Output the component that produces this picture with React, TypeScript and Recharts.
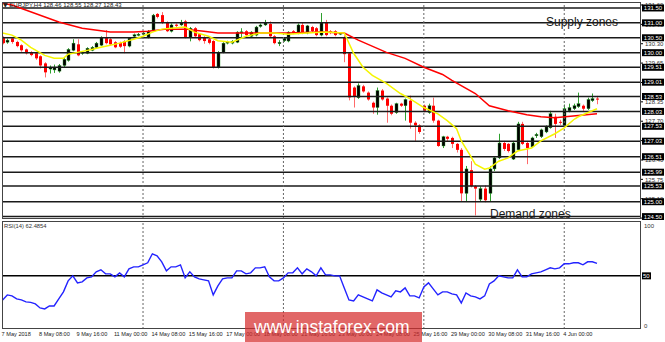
import React from 'react';
import { ComposedChart, Bar, Line, XAxis, YAxis, ReferenceLine } from 'recharts';

// EURJPY H4, 7 May - 5 Jun 2018, one row per bar: [open, high, low, close]
const candles: number[][] = [
  [130.49, 130.55, 130.28, 130.32], [130.35, 130.47, 130.30, 130.42], [130.48, 130.52, 130.30, 130.36],
  [130.36, 130.40, 130.18, 130.22], [130.25, 130.28, 130.03, 130.08], [130.11, 130.14, 129.94, 129.98],
  [130.02, 130.05, 129.88, 129.92], [129.98, 130.01, 129.76, 129.81], [129.88, 129.91, 129.47, 129.57],
  [129.64, 129.68, 129.17, 129.34], [129.45, 129.57, 129.30, 129.50], [129.42, 129.60, 129.32, 129.50],
  [129.38, 129.62, 129.33, 129.57], [129.57, 129.82, 129.52, 129.78], [129.74, 130.15, 129.70, 130.11],
  [130.08, 130.45, 130.05, 130.32], [130.28, 130.45, 129.88, 129.91], [129.98, 130.05, 129.93, 130.01],
  [129.98, 130.18, 129.95, 130.15], [130.08, 130.22, 130.05, 130.18], [130.18, 130.36, 130.15, 130.32],
  [130.25, 130.55, 130.22, 130.52], [130.49, 130.76, 130.28, 130.32], [130.45, 130.49, 130.25, 130.28],
  [130.35, 130.39, 130.15, 130.18], [130.33, 130.37, 130.16, 130.20], [130.38, 130.42, 129.98, 130.22],
  [130.22, 130.52, 130.18, 130.49], [130.55, 130.64, 130.50, 130.60], [130.58, 130.66, 130.55, 130.62],
  [130.62, 130.70, 130.58, 130.66], [130.52, 130.76, 130.48, 130.72], [130.76, 131.30, 130.72, 131.26],
  [131.30, 131.33, 131.15, 131.20], [131.26, 131.36, 130.96, 131.00], [131.00, 131.05, 130.69, 130.72],
  [130.72, 130.98, 130.68, 130.93], [130.94, 130.98, 130.86, 130.90], [130.93, 131.10, 130.90, 131.00],
  [131.05, 131.10, 130.48, 130.52], [130.52, 130.86, 130.38, 130.82], [130.82, 130.86, 130.50, 130.55],
  [130.62, 130.66, 130.38, 130.42], [130.50, 130.55, 130.30, 130.39], [130.45, 130.50, 130.28, 130.33],
  [130.39, 130.42, 129.47, 129.51], [129.51, 130.05, 129.47, 130.01], [130.01, 130.35, 129.98, 130.32],
  [130.32, 130.40, 130.28, 130.36], [130.32, 130.42, 130.28, 130.38], [130.35, 130.72, 130.32, 130.69],
  [130.66, 130.82, 130.52, 130.70], [130.72, 130.76, 130.55, 130.59], [130.55, 130.72, 130.50, 130.69],
  [130.59, 130.90, 130.55, 130.86], [130.88, 130.98, 130.84, 130.93], [130.93, 131.10, 130.90, 131.00],
  [130.96, 131.05, 130.52, 130.55], [130.55, 130.59, 130.28, 130.32], [130.30, 130.42, 130.22, 130.35],
  [130.40, 130.52, 130.36, 130.48], [130.39, 130.72, 130.35, 130.69], [130.72, 130.76, 130.62, 130.66],
  [130.66, 130.98, 130.62, 130.93], [130.93, 131.00, 130.62, 130.66], [130.66, 130.93, 130.62, 130.90],
  [130.86, 130.90, 130.69, 130.72], [130.82, 130.86, 130.55, 130.59], [130.59, 131.33, 130.55, 131.00],
  [131.00, 131.10, 130.55, 130.59], [130.72, 130.76, 130.62, 130.66], [130.72, 130.76, 130.55, 130.59],
  [130.62, 130.69, 130.59, 130.66], [130.52, 130.58, 129.68, 129.95], [129.98, 130.00, 128.40, 128.50],
  [128.83, 128.87, 128.16, 128.53], [128.49, 128.97, 128.45, 128.90], [128.87, 128.92, 128.66, 128.70],
  [128.66, 128.70, 128.39, 128.43], [128.32, 128.36, 127.95, 128.16], [128.16, 128.83, 127.92, 128.73],
  [128.73, 128.78, 128.39, 128.43], [128.46, 128.50, 127.65, 128.22], [128.22, 128.26, 127.90, 127.95],
  [127.99, 128.32, 127.95, 128.29], [128.29, 128.32, 128.18, 128.22], [128.22, 128.46, 127.72, 128.43],
  [128.39, 128.56, 127.45, 127.65], [127.65, 127.70, 127.04, 127.56], [127.56, 127.60, 127.28, 127.34],
  [128.22, 128.26, 128.00, 128.05], [127.99, 128.29, 127.95, 128.22], [128.22, 128.49, 127.65, 127.72],
  [127.72, 127.75, 126.84, 126.87], [126.87, 127.21, 126.80, 127.18], [127.18, 127.21, 127.04, 127.11],
  [127.14, 127.18, 126.80, 126.94], [126.94, 126.97, 126.65, 126.74], [126.74, 126.80, 125.01, 125.28],
  [125.28, 126.20, 125.01, 126.10], [126.06, 126.36, 125.48, 125.52], [125.52, 125.56, 124.54, 125.44],
  [125.08, 125.52, 125.00, 125.44], [125.44, 125.55, 124.98, 125.05], [125.28, 126.20, 125.00, 126.10],
  [126.10, 126.53, 126.03, 126.47], [126.47, 127.28, 126.43, 126.97], [126.97, 127.04, 126.70, 126.77],
  [126.94, 126.97, 126.65, 126.70], [126.43, 127.04, 126.40, 126.97], [126.74, 127.68, 126.70, 127.61],
  [127.61, 127.68, 126.90, 126.94], [126.97, 127.01, 126.26, 126.80], [126.84, 127.18, 126.80, 127.14],
  [127.21, 127.31, 127.14, 127.26], [127.18, 127.45, 127.14, 127.41], [127.34, 127.56, 127.30, 127.51],
  [127.48, 128.05, 127.45, 127.95], [127.85, 127.95, 127.14, 127.61], [127.68, 127.75, 127.58, 127.65],
  [127.56, 128.26, 127.48, 128.12], [128.05, 128.29, 128.00, 128.16], [128.12, 128.29, 128.08, 128.22],
  [128.19, 128.66, 128.15, 128.29], [128.22, 128.26, 128.05, 128.12], [128.12, 128.49, 128.08, 128.43],
  [128.39, 128.63, 128.35, 128.46], [128.46, 128.55, 128.27, 128.43],
];

// moving averages: [bar, price]
const fastMA: number[][] = [
  [0, 130.66], [2, 130.59], [4, 130.42], [6, 130.18], [9, 129.91], [11, 129.81], [13, 129.81], [14, 129.95],
  [16, 130.01], [19, 130.11], [21, 130.18], [23, 130.25], [25, 130.32], [28, 130.45], [30, 130.55],
  [32, 130.69], [34, 130.79], [36, 130.82], [39, 130.86], [41, 130.69], [44, 130.55], [46, 130.40],
  [49, 130.35], [52, 130.55], [55, 130.66], [58, 130.66], [61, 130.62], [65, 130.66], [69, 130.69],
  [73, 130.66], [75, 129.98], [77, 129.51], [79, 129.24], [82, 128.97], [85, 128.63], [87, 128.46],
  [90, 128.16], [93, 127.95], [95, 127.72], [97, 127.45], [98, 127.04], [100, 126.53], [101, 126.26],
  [103, 126.09], [104, 126.13], [106, 126.36], [108, 126.47], [110, 126.70], [113, 126.80], [115, 127.04],
  [118, 127.28], [120, 127.48], [122, 127.75], [123, 127.85], [126, 128.05], [127, 128.12],
];
const slowMA: number[][] = [
  [0, 131.66], [2, 131.60], [12, 131.03], [17, 130.82], [23, 130.69], [28, 130.69], [31, 130.72],
  [35, 130.79], [39, 130.79], [43, 130.72], [46, 130.66], [54, 130.66], [61, 130.66], [68, 130.69],
  [73, 130.66], [76, 130.42], [82, 130.01], [86, 129.81], [90, 129.51], [94, 129.27], [96, 129.07],
  [101, 128.63], [104, 128.22], [108, 128.05], [112, 127.92], [115, 127.85], [118, 127.82], [123, 127.89],
  [127, 127.95],
];

// RSI(14), one value per bar
const rsi: number[] = [
  26, 31, 30, 27, 26, 24, 23.5, 22, 18, 17, 20, 20, 27, 34, 45, 50, 43, 44, 48, 49,
  54, 56, 52, 52, 49, 53, 49, 57, 59, 59, 61, 63, 72, 70, 64, 55, 59, 59, 61, 48,
  54, 49, 47, 46, 45, 31, 40, 47, 48, 48, 55, 55, 52, 53, 58, 58, 59, 49, 45, 45,
  48, 53, 53, 58, 52, 57, 54, 50, 58, 51, 51, 50, 50, 38, 26, 25, 31, 29, 27, 25,
  36, 33, 31, 29, 35, 34, 38, 30, 30, 28, 39, 43, 37, 31, 34, 34, 32, 31, 23, 33,
  30, 29, 27, 30, 42, 45, 50, 49, 48, 48, 56, 49, 49, 52, 53, 54, 56, 58, 57, 58,
  62, 62, 63, 63, 61, 64, 64, 62.5,
];

const levels = [131.5, 131.0, 130.5, 130.0, 129.51, 129.01, 128.53, 128.03, 127.53, 127.03, 126.51, 125.99, 125.53, 125.0, 124.5];
const scaleTicks = [131.6, 130.95, 130.3, 129.65, 129.0, 128.35, 127.7, 127.05, 126.4, 125.75, 125.1, 124.45];
const weekStarts = [30, 60, 90, 120];
const timeTicks = [0, 8, 16, 24, 32, 40, 48, 56, 64, 72, 80, 88, 96, 104, 112, 120];
const timeLabels = [
  '7 May 2018', '8 May 08:00', '9 May 16:00', '11 May 00:00', '14 May 08:00', '15 May 16:00',
  '17 May 00:00', '18 May 08:00', '21 May 16:00', '23 May 00:00', '24 May 08:00', '25 May 16:00',
  '29 May 00:00', '30 May 08:00', '31 May 16:00', '4 Jun 00:00',
];

const FONT = '"Liberation Sans", Arial, sans-serif';
const X_DOMAIN = [-0.13, 136.4];

const bars = candles.map(([o, h, l, c], i) => ({ i, o, h, l, c, range: [l, h] }));
const fastData = fastMA.map(([i, v]) => ({ i, v }));
const slowData = slowMA.map(([i, v]) => ({ i, v }));
const rsiData = rsi.map((v, i) => ({ i, v }));

const Candle = (props: any) => {
  const { x, y, width, height, payload } = props;
  const { o, h, l, c } = payload;
  const top = Math.min(y, y + height);
  const span = Math.abs(height);
  const k = h === l ? 0 : span / (h - l);
  const cx = Math.round(x + width / 2) + 0.5;
  const yo = top + (h - o) * k;
  const yc = top + (h - c) * k;
  const up = c >= o;
  const bTop = Math.min(yo, yc);
  const bH = Math.max(1, Math.abs(yc - yo));
  return (
    <g>
      <line x1={cx} x2={cx} y1={top} y2={top + span} stroke={up ? '#2ea02e' : '#ff6a6a'} strokeWidth={1} />
      <rect x={cx - 1.5} y={bTop} width={3} height={bH} fill={up ? '#000' : '#ff0000'} stroke={up ? '#2ea02e' : 'none'} strokeWidth={0.4} />
    </g>
  );
};

const PriceTick = (props: any) => {
  const { x, y, payload } = props;
  const v = payload.value;
  if (levels.some((l) => Math.abs(l - v) < 1e-6)) {
    return (
      <g>
        <rect x={x + 1} y={y - 3.5} width={22} height={7} fill="#000" />
        <text x={x + 12} y={y + 2.2} fill="#fff" fontSize={6} fontFamily={FONT} textAnchor="middle">{v.toFixed(2)}</text>
      </g>
    );
  }
  return (
    <g>
      <line x1={x} x2={x + 2} y1={y} y2={y} stroke="#000" />
      <text x={x + 4} y={y + 2.2} fill="#333" fontSize={6} fontFamily={FONT}>{v.toFixed(2)}</text>
    </g>
  );
};

const RsiTick = (props: any) => {
  const { x, y, payload } = props;
  const v = payload.value;
  if (v === 50) {
    return (
      <g>
        <rect x={x + 1} y={y - 3.5} width={9} height={7} fill="#000" />
        <text x={x + 2} y={y + 2.2} fill="#fff" fontSize={6} fontFamily={FONT}>50</text>
      </g>
    );
  }
  return <text x={x + 3} y={y + 2.2} fill="#333" fontSize={6} fontFamily={FONT}>{v}</text>;
};

const TimeTick = (props: any) => {
  const { x, y, payload } = props;
  const idx = timeTicks.indexOf(payload.value);
  return (
    <text x={x - 1} y={y + 6.5} fill="#222" fontSize={5.6} fontFamily={FONT} textAnchor="start">
      {timeLabels[idx]}
    </text>
  );
};

export default function App() {
  return (
    <div style={{ position: 'absolute', left: 0, top: 0, width: 665, height: 342, background: '#fff', overflow: 'hidden', fontFamily: FONT }}>
      <div style={{ position: 'absolute', left: 0, top: 0 }}>
        <ComposedChart width={665} height={220} data={bars} margin={{ top: 2, right: 0, bottom: 1, left: 2 }}>
          <XAxis dataKey="i" type="number" domain={X_DOMAIN} allowDataOverflow hide />
          <YAxis
            orientation="right"
            type="number"
            width={24}
            domain={[124.42, 131.7]}
            allowDataOverflow
            ticks={[...scaleTicks, ...levels]}
            interval={0}
            axisLine={false}
            tickLine={false}
            tickSize={0}
            tickMargin={0}
            tick={<PriceTick />}
          />
          {levels.map((v) => (
            <ReferenceLine key={v} y={v} stroke="#1a1a1a" strokeWidth={1.5} />
          ))}
          {weekStarts.map((i) => (
            <ReferenceLine key={i} x={i} stroke="#666" strokeDasharray="2 2" />
          ))}
          <Bar dataKey="range" barSize={3} shape={<Candle />} isAnimationActive={false} />
          <Line data={slowData} dataKey="v" type="linear" stroke="#ff0000" strokeWidth={1.5} dot={false} isAnimationActive={false} />
          <Line data={fastData} dataKey="v" type="linear" stroke="#f5f500" strokeWidth={1.5} dot={false} isAnimationActive={false} />
        </ComposedChart>
      </div>
      <div style={{ position: 'absolute', left: 0, top: 221 }}>
        <ComposedChart width={665} height={121} data={rsiData} margin={{ top: 0, right: 0, bottom: 0, left: 2 }}>
          <XAxis
            dataKey="i"
            type="number"
            domain={X_DOMAIN}
            allowDataOverflow
            ticks={timeTicks}
            interval={0}
            height={13}
            axisLine={false}
            tickLine={false}
            tickSize={0}
            tickMargin={0}
            tick={<TimeTick />}
          />
          <YAxis
            orientation="right"
            type="number"
            width={24}
            domain={[-3, 104.7]}
            allowDataOverflow
            ticks={[100, 50, 0]}
            interval={0}
            axisLine={false}
            tickLine={false}
            tickSize={0}
            tickMargin={0}
            tick={<RsiTick />}
          />
          <ReferenceLine y={50} stroke="#000" strokeWidth={1.5} />
          {weekStarts.map((i) => (
            <ReferenceLine key={i} x={i} stroke="#666" strokeDasharray="2 2" />
          ))}
          <Line dataKey="v" type="linear" stroke="#2323ff" strokeWidth={1.4} dot={false} isAnimationActive={false} />
        </ComposedChart>
      </div>

      <div style={{ position: 'absolute', left: 2, top: 2, width: 639, height: 217, border: '1px solid #444', boxSizing: 'border-box', pointerEvents: 'none' }} />
      <div style={{ position: 'absolute', left: 2, top: 221, width: 639, height: 108, border: '1px solid #444', boxSizing: 'border-box', pointerEvents: 'none' }} />

      <div style={{ position: 'absolute', left: 3, top: 1, fontSize: 6, color: '#222', whiteSpace: 'nowrap', lineHeight: '8px' }}>
        <span style={{ fontFamily: '"DejaVu Sans"', fontSize: 6 }}>▼</span> EURJPY,H4 128.46 128.55 128.27 128.43
      </div>
      <div style={{ position: 'absolute', left: 4, top: 223, fontSize: 5.8, color: '#333', whiteSpace: 'nowrap', lineHeight: '7px' }}>
        RSI(14) 62.4854
      </div>
      <div style={{ position: 'absolute', left: 546, top: 15, fontSize: 12, color: '#1a1a1a', whiteSpace: 'nowrap', lineHeight: '14px' }}>
        Supply zones
      </div>
      <div style={{ position: 'absolute', left: 490, top: 207, fontSize: 12, color: '#1a1a1a', whiteSpace: 'nowrap', lineHeight: '14px' }}>
        Demand zones
      </div>
      <div style={{ position: 'absolute', left: 245, top: 312, width: 177, height: 30, background: 'rgba(214, 45, 45, 0.72)' }}>
        <div style={{ position: 'absolute', left: 9, top: 5, fontSize: 17.5, color: '#fff', whiteSpace: 'nowrap', lineHeight: '20px' }}>
          www.instaforex.com
        </div>
      </div>
    </div>
  );
}
